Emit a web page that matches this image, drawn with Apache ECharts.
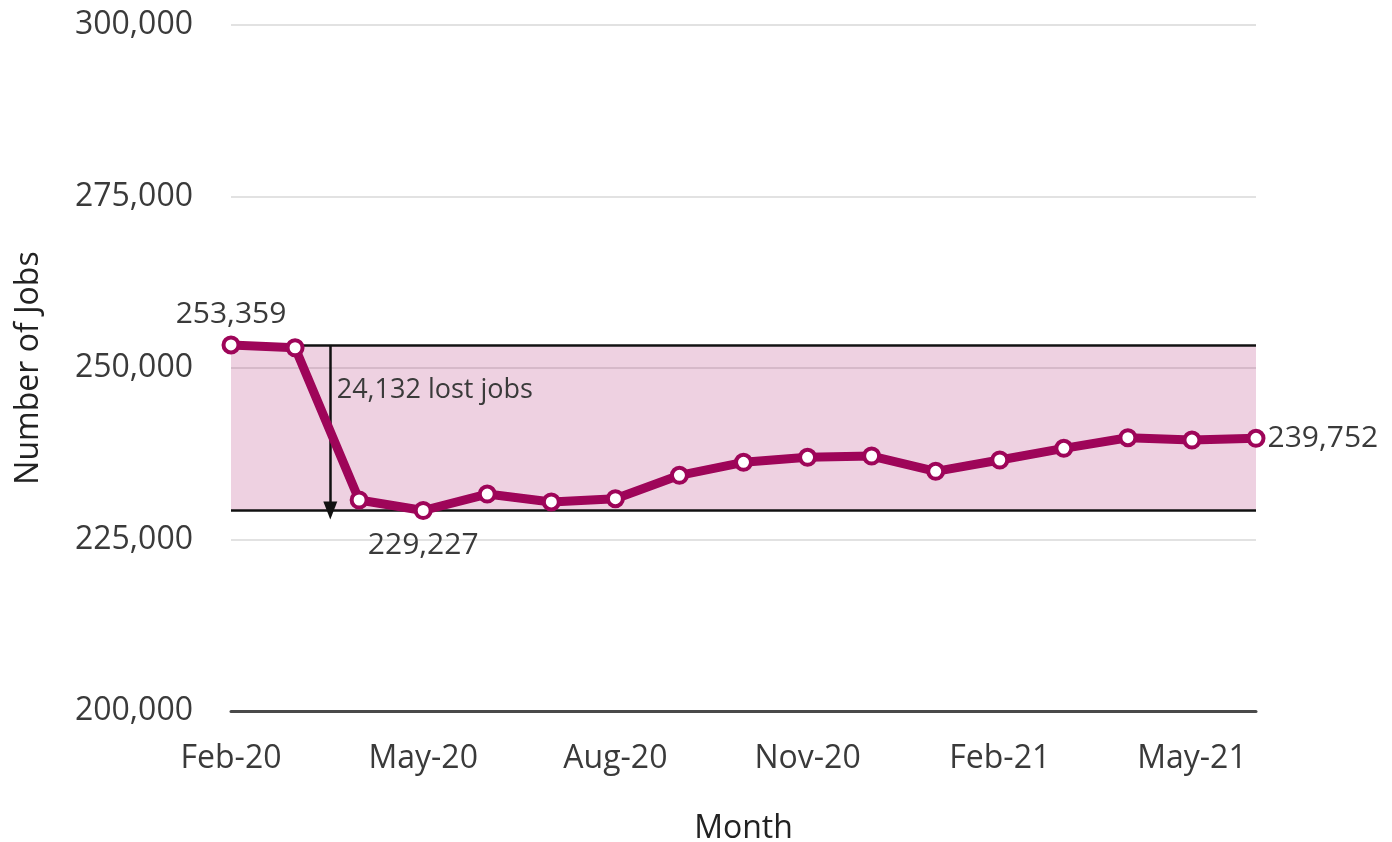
<!DOCTYPE html>
<html>
<head>
<meta charset="utf-8">
<script src="https://cdn.jsdelivr.net/npm/echarts@6/dist/echarts.min.js"></script>
<style>
  html, body { margin: 0; padding: 0; background: #fff; }
  #chart { width: 1392px; height: 842px; }
</style>
</head>
<body>
<div id="chart"></div>
<script>
const months = ["Feb-20", "Mar-20", "Apr-20", "May-20", "Jun-20", "Jul-20", "Aug-20", "Sep-20",
  "Oct-20", "Nov-20", "Dec-20", "Jan-21", "Feb-21", "Mar-21", "Apr-21", "May-21", "Jun-21"];
const jobs = [253359, 252950, 230760, 229227, 231630, 230470, 230950, 234360,
  236250, 236980, 237170, 234940, 236590, 238290, 239840, 239500, 239752];
const peak = 253359;
const trough = 229227;
const lostLabel = "24,132 lost jobs";
const arrowAt = 1.55; // between Mar-20 and Apr-20

const lineColor = "#9e0559";
const textColor = "#3a3a3a";
const font = "Open Sans";

const fmt = (v) => v.toLocaleString("en-US");

// put labels on first, lowest and last points
const seriesData = jobs.map((v, i) => {
  const item = { value: [i, v] };
  if (i === 0) item.label = { show: true, position: "top", distance: 6 };
  if (v === trough) item.label = { show: true, position: "bottom", distance: 10 };
  if (i === jobs.length - 1) item.label = { show: true, position: "right", distance: 2 };
  return item;
});

const chart = echarts.init(document.getElementById("chart"));
chart.setOption({
  animation: false,
  grid: { left: 231, right: 136, top: 25, bottom: 131, outerBoundsMode: "none" },
  xAxis: {
    type: "value",
    min: 0,
    max: months.length - 1,
    interval: 3,
    name: "Month",
    nameLocation: "middle",
    nameGap: 102,
    nameTextStyle: { fontFamily: font, fontSize: 32, color: "#222" },
    axisLine: { show: true, onZero: false, lineStyle: { color: "#4a4a4a", width: 3 } },
    axisTick: { show: false },
    splitLine: { show: false },
    axisLabel: {
      fontFamily: font, fontSize: 32, color: textColor, margin: 32,
      showMaxLabel: false,
      formatter: (v) => months[v] || ""
    }
  },
  yAxis: {
    type: "value",
    min: 200000,
    max: 300000,
    interval: 25000,
    name: "Number of Jobs",
    nameLocation: "middle",
    nameGap: 186,
    nameTextStyle: { fontFamily: font, fontSize: 32, color: "#222" },
    axisLine: { show: false },
    axisTick: { show: false },
    splitLine: { lineStyle: { color: "#e2e2e2", width: 2 } },
    axisLabel: { fontFamily: font, fontSize: 32, color: textColor, margin: 38, formatter: (v) => fmt(v) }
  },
  series: [
    {
      type: "line",
      data: seriesData,
      z: 5,
      lineStyle: { color: lineColor, width: 9 },
      itemStyle: { color: "#fff", borderColor: lineColor, borderWidth: 4 },
      symbol: "circle",
      symbolSize: 15,
      label: {
        show: false,
        fontFamily: font, fontSize: 30, color: textColor,
        formatter: (p) => fmt(p.value[1])
      },
      markArea: {
        silent: true,
        itemStyle: { color: "rgba(160,0,90,0.18)" },
        data: [[{ yAxis: trough }, { yAxis: peak }]]
      },
      markLine: {
        silent: true,
        symbol: "none",
        label: { show: false },
        lineStyle: { color: "#111", width: 2.5, type: "solid" },
        data: [
          { yAxis: peak },
          { yAxis: trough },
          [
            { coord: [arrowAt, peak], symbol: "none" },
            { coord: [arrowAt, trough], symbol: "triangle", symbolSize: [14, 18] }
          ]
        ]
      },
      markPoint: {
        silent: true,
        symbol: "circle",
        symbolSize: 0,
        data: [{
          coord: [arrowAt + 0.1, 246700],
          label: {
            show: true, position: "right", distance: 0,
            formatter: lostLabel,
            fontFamily: font, fontSize: 27, color: textColor
          }
        }]
      }
    }
  ]
});
</script>
</body>
</html>
